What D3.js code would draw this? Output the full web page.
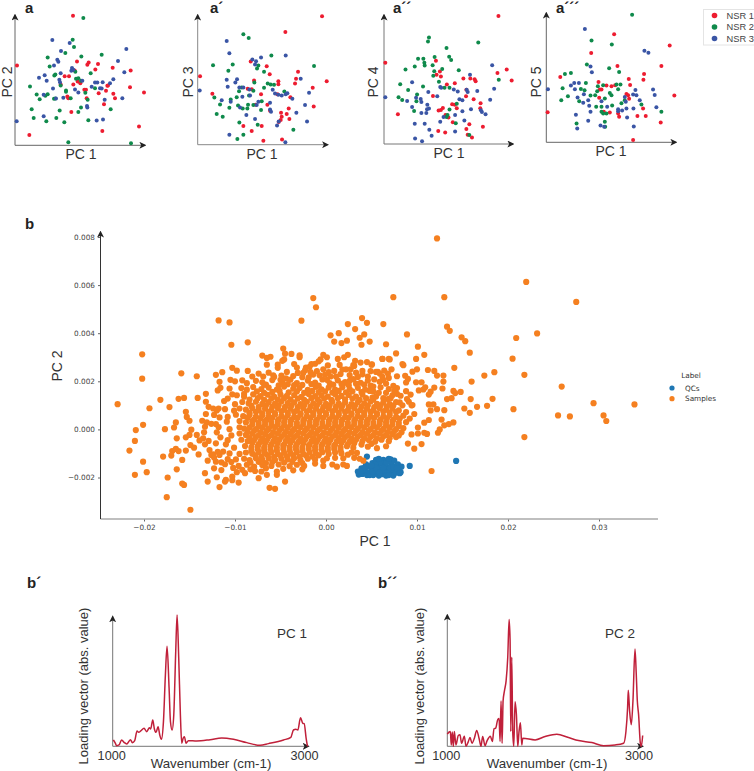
<!DOCTYPE html>
<html><head><meta charset="utf-8">
<style>html,body{margin:0;padding:0;background:#fff}svg{display:block}text{font-family:"Liberation Sans",Arial,sans-serif}</style>
<script src="https://cdn.jsdelivr.net/npm/d3@7"></script></head><body>
<svg id="c" width="754" height="771"></svg>
<script>
// Panel a: PC1 / PC2 scores (arbitrary units, 0-390 along each axis)
const aNSR1=[[174,388],[6,239],[43,31],[372,56],[262,43],[387,158],[347,224],[345,174],[293,232],[249,243],[241,227],[221,248],[217,241],[186,251],[179,224],[162,207],[149,207],[137,182],[188,191],[196,186],[175,182],[208,166],[213,166],[251,156],[273,163],[277,178],[279,179],[295,154],[300,141],[267,123],[157,146],[160,141],[169,100],[215,141]];
const aNSR2=[[205,381],[177,294],[173,316],[151,276],[98,263],[104,236],[199,266],[260,271],[227,216],[181,220],[183,199],[121,212],[118,209],[45,176],[65,152],[74,138],[91,148],[98,153],[117,139],[121,140],[153,164],[153,160],[137,179],[167,141],[190,201],[198,193],[240,171],[218,136],[211,157],[198,113],[190,100],[134,104],[50,108],[56,82],[94,72],[124,82],[148,69],[220,75],[287,108],[160,9],[348,6]];
const aNSR3=[[112,315],[164,306],[138,282],[127,256],[130,250],[117,239],[72,202],[89,210],[95,193],[133,196],[135,189],[137,216],[171,231],[169,223],[175,226],[114,170],[86,151],[123,140],[145,142],[180,167],[190,158],[240,188],[247,188],[263,189],[295,198],[285,186],[328,219],[309,252],[334,288],[230,175],[255,171],[260,170],[269,136],[322,141],[216,118],[217,113],[86,87],[5,72],[245,74],[264,77],[202,193]];
// Panel a': PC1 / PC3 scores
const bNSR1=[[373,386],[263,339],[7,206],[387,191],[301,219],[295,198],[292,184],[345,171],[348,115],[159,250],[207,236],[216,212],[169,193],[242,191],[242,182],[44,153],[150,168],[162,167],[190,152],[239,152],[278,143],[209,120],[174,120],[273,109],[250,96],[267,92],[252,84],[275,77],[249,74],[243,68],[137,56],[192,56],[162,41],[197,12],[253,16],[217,102]];
const bNSR2=[[137,332],[153,321],[46,239],[105,241],[92,222],[221,268],[349,237],[182,238],[178,229],[199,219],[210,184],[219,181],[229,180],[199,171],[170,187],[167,162],[132,172],[124,161],[50,142],[67,121],[99,136],[95,111],[117,143],[154,148],[121,118],[135,109],[149,109],[151,120],[167,119],[192,131],[190,104],[57,92],[75,84],[125,67],[180,60],[137,30],[119,17],[287,45],[260,160]];
const bNSR3=[[87,312],[95,275],[164,256],[175,251],[190,262],[264,268],[172,241],[87,195],[118,197],[113,187],[90,174],[125,172],[137,172],[155,166],[6,163],[72,134],[99,129],[134,144],[157,148],[225,165],[232,154],[242,150],[252,148],[264,152],[269,155],[284,138],[309,198],[334,156],[322,119],[217,126],[182,129],[177,119],[127,112],[217,106],[220,99],[146,89],[172,77],[296,96],[328,70],[243,70],[238,58],[95,30],[263,7]];
// Panel a'': PC1 / PC4 scores
const cNSR1=[[346,387],[4,246],[343,215],[371,225],[386,192],[157,252],[169,219],[159,209],[172,204],[190,180],[214,184],[240,198],[261,198],[274,196],[277,190],[249,164],[148,145],[271,135],[292,123],[291,108],[248,144],[206,120],[214,119],[220,108],[178,109],[172,103],[165,101],[195,80],[186,88],[208,66],[42,90],[164,39],[185,35],[249,45],[253,28],[266,20],[299,52],[258,60]];
const cNSR2=[[136,322],[133,310],[285,307],[189,290],[103,258],[119,258],[122,246],[123,237],[153,263],[197,264],[203,254],[147,238],[93,234],[65,225],[152,220],[226,223],[176,227],[149,206],[166,188],[49,181],[73,163],[118,174],[44,141],[55,133],[98,129],[100,150],[183,170],[198,170],[347,194],[220,122],[198,104],[91,100],[192,88],[189,82],[217,63],[258,27]];
const cNSR3=[[327,238],[260,209],[85,187],[170,172],[173,170],[134,157],[211,165],[223,159],[250,164],[253,157],[282,160],[333,167],[4,141],[70,130],[97,140],[111,136],[113,127],[161,144],[228,135],[237,132],[321,134],[85,112],[131,119],[136,107],[130,105],[113,94],[128,94],[237,99],[263,105],[293,102],[296,97],[307,90],[180,82],[215,88],[170,67],[93,61],[123,61],[243,71],[137,43],[144,25],[215,38],[94,17],[115,8]];
// Panel a''': PC1 / PC5 scores
const dNSR1=[[204,326],[135,269],[371,292],[346,230],[214,230],[294,206],[292,189],[248,191],[252,173],[42,197],[157,182],[161,159],[166,159],[181,171],[196,169],[207,172],[385,141],[4,91],[241,146],[246,142],[249,131],[291,102],[159,134],[173,92],[216,87],[219,77],[274,79],[299,79],[344,60],[261,7],[191,90]];
const dNSR2=[[258,385],[136,307],[197,295],[122,235],[189,223],[219,212],[56,206],[74,209],[49,163],[119,179],[104,161],[115,157],[155,169],[153,154],[171,172],[191,149],[211,174],[223,174],[216,160],[45,127],[65,139],[99,124],[133,141],[147,142],[196,142],[176,132],[226,118],[286,114],[346,92],[150,107],[166,107],[166,92],[198,111],[171,87],[181,87],[176,62],[91,57],[177,47],[236,127]];
const dNSR3=[[116,342],[295,276],[307,270],[133,229],[137,211],[74,171],[84,179],[98,179],[5,160],[86,160],[113,145],[94,135],[126,127],[268,158],[321,159],[326,143],[261,144],[281,127],[111,119],[129,110],[166,124],[183,107],[216,100],[216,94],[241,102],[228,96],[262,102],[331,106],[89,83],[133,92],[126,65],[93,42],[163,51],[263,48],[243,75],[236,137],[239,122],[174,47],[271,142]];

// Panel b: PC1, PC2 scores, in units of 0.001
const qcScores=[[14.3,-1.31],[9.2,-1.52],[4.5,-1.13],[3.5,-1.75],[3.6,-1.88],[3.9,-1.62],[4.0,-1.85],[4.3,-1.72],[4.5,-1.9],[4.7,-1.55],[4.9,-1.78],[5.1,-1.4],[5.2,-1.9],[5.3,-1.62],[5.5,-1.27],[5.6,-1.78],[5.7,-1.5],[5.8,-1.92],[5.9,-1.32],[6.0,-1.66],[6.2,-1.86],[6.3,-1.27],[6.4,-1.5],[6.5,-1.72],[6.6,-1.92],[6.7,-1.3],[6.8,-1.58],[7.0,-1.8],[7.1,-1.25],[7.2,-1.45],[7.3,-1.68],[7.4,-1.92],[7.5,-1.3],[7.6,-1.55],[7.7,-1.8],[7.9,-1.45],[8.0,-1.66],[8.2,-1.78],[8.3,-1.55],[6.1,-1.42],[5.0,-1.62],[4.4,-1.45],[7.0,-1.6],[6.6,-1.4],[5.4,-1.45],[4.2,-1.6],[4.8,-1.9],[5.1,-1.75],[5.5,-1.6],[5.9,-1.8],[6.3,-1.6],[6.9,-1.9],[7.4,-1.58],[7.8,-1.62],[8.1,-1.82],[5.0,-1.5],[5.8,-1.22],[6.9,-1.22],[3.8,-1.75]];
const sampleOutliers=[[-22.9,1.05],[-20.2,3.12],[-20.2,2.11],[-19.4,.88],[-20.1,.19],[-20.9,-.03],[-21,-.48],[-21.6,-.88],[-20.1,-1.34],[-21,-1.89],[-19.7,-1.78],[-18.2,1.23],[-17.2,.93],[-16.2,1.27],[-15.6,1.31],[-15.9,2.33],[-14.2,2.21],[-14.1,1.31],[-15.4,.73],[-15.3,.52],[-15,.36],[-16.5,.29],[-16.7,.08],[-17.7,.01],[-14.8,-.01],[-16.4,-.37],[-15.4,-.33],[-15,-.23],[-16.5,-.81],[-16.9,-.9],[-16.2,-.9],[-15.4,-.88],[-17.9,-1.13],[-17,-1.09],[-15.8,-1.27],[-14.9,-.65],[-14.5,-.76],[-14,-1.04],[-16.4,-1.66],[-17.4,-2],[-15.8,-2.25],[-15.6,-2.31],[-17.5,-2.82],[-14.9,-3.34],[-13.3,-1.82],[-13,-2.17],[-11.7,-2.4],[-12,-1.99],[-11.1,-2.17],[-11,-2.1],[-10.3,-1.96],[-10.3,-2.11],[-9.6,-2.21],[-6.2,-2.43],[-5.6,-2.47],[-7.4,-2.03],[-4.5,-2.17],[-6.5,-1.89],[-5.4,-1.89],[-5.4,-1.75],[-7.1,-1.75],[-7.8,-1.73],[-8.9,-1.82],[-11.8,4.53],[-10.6,4.45],[-10.4,3.52],[-8.6,3.62],[-2.7,4.52],[-1.4,5.46],[-1.1,5.08],[.5,3.91],[1.4,4],[.9,3.65],[1.7,3.59],[2.3,3.69],[2.4,4.38],[3.2,4.17],[3.7,3.81],[4.2,3.95],[3.96,4.63],[4.5,4.43],[3.9,3.52],[4.8,3.65],[6.3,4.38],[6.6,3.54],
[12.2,7.94],[22,6.13],[27.5,5.3],[7.4,5.5],[13,5.5],[8.9,3.95],[13.3,4.27],[13.6,4.1],[14.9,3.83],[15.3,3.67],[20.9,3.8],[23.2,3.99],[10.1,3.44],[7.7,3.16],[10.8,3.1],[15.8,3.19],[20.5,2.94],[6.2,2.93],[7,2.91],[9.9,2.93],[8.4,2.72],[8.5,2.67],[14.1,2.56],[11.2,2.47],[11.9,2.43],[10,2.5],[9.5,2.4],[12.2,2.24],[12.9,2.24],[17.4,2.24],[18.5,2.38],[21.8,2.27],[12.9,1.99],[16,1.99],[10.5,1.96],[9.9,1.96],[25.9,1.78],[12.8,1.7],[11.9,1.74],[10.9,1.75],[10.7,1.66],[10.2,1.62],[14,1.6],[14.8,1.56],[14.2,1.51],[11.5,1.57],[11.3,1.45],[9.3,1.45],[8.8,1.59],[18.3,1.27],[15.9,1.26],[13.8,1.3],[13.3,1.26],[11.3,1.04],[11.8,1.04],[9.5,1.01],[17.7,.98],[16.6,.94],[15.2,.87],[12.2,.84],[13,.8],[11.5,.79],[15.8,.69],[9.7,.64],[20.6,.84],[29.4,1.09],[33.9,1.04],[25.5,.58],[26.8,.54],[30.5,.58],[30.8,.35],[12.7,.41],[11.3,.39],[14,.29],[13.5,.22],[13,.17],[10.8,.28],[10.1,.08],[12.5,0],[12.3,-.14],[10.8,-.14],[11.1,-.19],[9.4,-.21],[10.1,-.17],[21.8,-.32],[9,-.59],[10.5,-.61],[9.7,-.8],[11.6,-1.73]];
const sampleUpper=[[-4.7,3.36],[-4.5,3.15],[-3.8,3.14],[-2.9,3.08],[-2.9,3],[-7,3.07],[-6.5,2.97],[-6.1,3.02],[-6.5,2.69],[-5.3,2.69],[-5.3,2.56],[-4.8,2.85],[-4.6,2.91],[-.3,3.1],[.1,3],[-.6,2.91],[-1.2,2.73],[-.8,2.83],[1.3,2.93],[2,3],[2.4,3.1],[3.2,2.85],[3,2.67],[3.8,2.78],[4.5,2.8],[5,2.69],[6.2,2.93],[6.9,2.93],[-10.3,2.56],[-9.8,2.44],[-12.1,2.27],[-11.4,2.38],[-8.6,2.43],[-8.1,2.2],[-10.5,2.06],[-10,2],[-11.7,1.98],[-11.6,1.73],[-11.9,1.62],[-13.2,1.48],[-13.2,1.15],[-12.9,.94],[-12.4,.87],[-11.8,.87],[-12,.79],[-12.3,.6],[-13.2,.64],[-13.6,.36],[-13.1,.29],[-13.3,.11],[-12.6,.23],[-12.1,.22],[-11.6,-.33],[-13.4,-.12],[-14.2,-.23],[-13.5,-.37],[-13.9,-.46],[-13.3,-.62],[-12.9,-.48],[-12.1,-.58],[-12.8,-.86],[-12.4,-1.04],[-11.9,-.93],[-13,-1.3],[-12.1,-1.34],[-11.5,-1.37],[-11.1,-1.45],[-12.3,-1.62],[-11.5,-1.69],[-12.6,-1.06],[-12.3,-1.17],[-11.7,-1.06],
[-3.2,2.57],[-2.2,2.57],[-1.8,2.6],[-2.3,2.46],[-2.5,2.35],[-3.1,2.35],[-4.3,2.39],[-5.8,2.25],[-5.7,2.18],[-1.4,2.28],[-.7,2.25],[-.1,2.28],[.5,2.2],[.9,2.43],[1.8,2.49],[2.2,2.5],[3.1,2.64],[4,2.43],[4,2.29],[5.5,2.39],[6.4,2.44],[5.9,2.32],[6.2,2.18],[6.8,2.32],[5.05,2.7],[5.7,2.39],[6.9,2.14],[7.8,2.21],[8.7,2.23],[9,2.1],[8.8,1.95],[6.3,2.05],[6.6,1.9],[7.4,1.81],[5.9,1.98],[4.8,1.6],[5.8,1.52],[6.6,1.52],[7.3,1.42],[7.8,1.48],[8.1,1.12],[8.4,1],[9.1,1.15],[9.4,1],[8.9,1.26]];
const sampleRidge=[[-7.4,2.32],[-6.9,2.2],[-6.3,2.36],[-4.9,2.24],[-4.4,2.12],[-3.6,2.22],[-3.5,2.72],[-2.6,2.17],[-1.9,2.16],[-1.7,2.38],[-1,2.42],[-.3,2.5],[.2,2.66],[.3,2.38],[-1.6,2.72],[1.1,2.2],[1.6,2.3],[2.6,2.26],[3.3,2.36],[3.5,2.18],[2.7,2.5],[4.6,2.2],[4.9,2.42],[5.3,2.08],[7.2,2.5],[1.5,2.68],[-6.8,1.86],[-3.5,1.84],[.1,2.06],[2.6,2.02],[4.2,1.86],[5.2,1.78],[6,1.75],[6.9,1.68],[7.8,1.72],[8.2,1.4],[5.1,1.32],[7.5,1.6],[-5,2.06],[1.9,1.9],[-8.7,1.92],[-9.2,2.04],[-9,1.48],[-10.3,1.46],[-10.8,1.28],[-10.6,1.7],[-11.2,1.18],[-11.7,.5],[-11.8,.1],[-12,-.12],[-11,-.62],[-11.3,-.92],[-10.6,-1],[-10.8,-1.24],[-10.4,-1.36],[-10.2,-1.6],[-9.8,-1.78],[-9.2,-1.68],[-8.3,-1.66],[-6.6,-1.62],[-4.7,-1.64],[-3.6,-1.7],[-2.6,-1.66],[-1.2,-1.42],[.1,-1.2],[2.8,-.96],[3.4,-.98]];
const sampleCore=[
[-7.7,2.02],[-7,1.96],[-5.9,2.05],[-4.8,1.94],[-3.9,2.07],[-3.2,1.92],[-2,2.03],[-1.2,1.95],[-.4,2.08],[.4,1.93],[1.3,2.04],[2.1,1.97],[3,2.09],[3.8,1.94],[4.6,2.03],
[-9.3,1.72],[-8.7,1.65],[-8,1.76],[-7.1,1.68],[-6.3,1.74],[-5.4,1.66],[-4.6,1.78],[-3.6,1.69],[-2.9,1.72],[-2,1.64],[-1.1,1.77],[-.5,1.67],[.3,1.74],[1,1.66],[1.8,1.75],[2.6,1.68],[3.5,1.73],[4.3,1.65],
[-9.8,1.42],[-9,1.36],[-8,1.46],[-7.2,1.38],[-6.4,1.44],[-5.7,1.36],[-5,1.45],[-4.3,1.39],[-3.5,1.43],[-2.7,1.35],[-1.9,1.47],[-1.2,1.38],[-.5,1.42],[.2,1.36],[1,1.46],[1.7,1.39],[2.5,1.43],[3.3,1.36],[4,1.45],[5.5,1.37],[6.3,1.3],
[-10,1.05],[-9.2,1.14],[-8.5,1.08],[-7.7,1.15],[-7,1.06],[-6.3,1.13],[-5.6,1.07],[-4.9,1.16],[-4.2,1.09],[-3.5,1.12],[-2.8,1.05],[-2.1,1.15],[-1.4,1.08],[-.7,1.13],[0,1.06],[.7,1.15],[1.4,1.07],[2.1,1.12],[2.8,1.05],[3.5,1.14],[4.2,1.08],[4.9,1.16],[5.6,1.06],[6.3,1.12],[7,1.05],[7.7,1.14],
[-11.1,.84],[-10.1,.78],[-9.5,.87],[-8.8,.82],[-8.1,.88],[-7.4,.8],[-6.7,.86],[-6,.81],[-5.3,.89],[-4.6,.82],[-3.9,.86],[-3.2,.79],[-2.5,.88],[-1.8,.81],[-1.1,.86],[-.4,.8],[.3,.88],[1,.82],[1.7,.86],[2.4,.79],[3.1,.88],[3.8,.81],[4.5,.86],[5.2,.79],[5.9,.88],[6.6,.82],[7.3,.86],[8,.79],[8.8,.72],
[-10.8,.52],[-9.9,.61],[-9.1,.55],[-8.4,.6],[-7.7,.53],[-7,.59],[-6.3,.54],[-5.6,.62],[-4.9,.56],[-4.2,.59],[-3.5,.52],[-2.8,.61],[-2.1,.55],[-1.4,.6],[-.7,.53],[0,.61],[.7,.55],[1.4,.59],[2.1,.52],[2.8,.61],[3.5,.55],[4.2,.6],[4.9,.53],[5.6,.61],[6.3,.54],[7,.59],[7.7,.52],[8.5,.57],[9.2,.45],
[-10.9,.32],[-9.5,.35],[-8.8,.29],[-8.1,.34],[-7.4,.27],[-6.7,.33],[-6,.28],[-5.3,.36],[-4.6,.3],[-3.9,.33],[-3.2,.27],[-2.5,.35],[-1.8,.29],[-1.1,.34],[-.4,.27],[.3,.35],[1,.29],[1.7,.33],[2.4,.27],[3.1,.35],[3.8,.29],[4.5,.34],[5.2,.27],[5.9,.35],[6.6,.29],[7.3,.33],[8,.27],[8.8,.3],
[-10.6,.01],[-9.5,.09],[-9,.03],[-8.4,.08],[-7.7,.01],[-7,.07],[-6.3,.02],[-5.6,.1],[-4.9,.04],[-4.2,.07],[-3.5,.01],[-2.8,.09],[-2.1,.03],[-1.4,.08],[-.7,.01],[0,.09],[.7,.03],[1.4,.07],[2.1,.01],[2.8,.09],[3.5,.03],[4.2,.08],[4.9,.01],[5.6,.09],[6.3,.02],[7,.07],[7.7,.01],[8.5,.05],
[-10.4,-.25],[-9.5,-.17],[-8.8,-.23],[-8.1,-.18],[-7.4,-.25],[-6.7,-.19],[-6,-.24],[-5.3,-.16],[-4.6,-.22],[-3.9,-.19],[-3.2,-.25],[-2.5,-.17],[-1.8,-.23],[-1.1,-.18],[-.4,-.25],[.3,-.17],[1,-.23],[1.7,-.19],[2.4,-.25],[3.1,-.17],[3.8,-.23],[4.5,-.18],[5.2,-.25],[5.9,-.17],[6.6,-.23],[7.3,-.19],[8,-.25],
[-10.8,-.45],[-9.3,-.43],[-8.6,-.49],[-7.9,-.44],[-7.2,-.51],[-6.5,-.45],[-5.8,-.5],[-5.1,-.42],[-4.4,-.48],[-3.7,-.45],[-3,-.51],[-2.3,-.43],[-1.6,-.49],[-.9,-.44],[-.2,-.51],[.5,-.43],[1.2,-.49],[1.9,-.45],[2.6,-.51],[3.3,-.43],[4,-.49],[4.7,-.44],[5.4,-.51],[6.1,-.43],[6.9,-.49],
[-10.1,-.76],[-8.9,-.69],[-8.2,-.75],[-7.5,-.7],[-6.8,-.76],[-6.1,-.7],[-5.4,-.75],[-4.7,-.68],[-4,-.74],[-3.3,-.7],[-2.6,-.76],[-1.9,-.68],[-1.2,-.74],[-.5,-.69],[.2,-.76],[.9,-.69],[1.6,-.75],[2.3,-.7],[3,-.76],[4.6,-.72],[5.6,-.78],[6.6,-.7],
[-9.5,-1.02],[-8.8,-.96],[-8.1,-1.01],[-7.4,-.95],[-6.7,-1],[-6,-.95],[-5.3,-1.02],[-4.6,-.97],[-3.9,-1],[-3.2,-.95],[-2.5,-1.02],[-1.8,-.96],[-1.1,-1.01],[-.4,-.95],[.3,-1.02],[1,-.96],[1.7,-1],[2.4,-1.05],
[-9.9,-1.25],[-9,-1.22],[-8.4,-1.28],[-7.7,-1.2],[-7,-1.26],[-6.3,-1.2],[-5.6,-1.27],[-4.9,-1.22],[-4.2,-1.25],[-3.5,-1.2],[-2.8,-1.28],[-2,-1.22],[-1.2,-1.26],[-.3,-1.3],[1,-1.18],[1.9,-1.2],[3.1,-1.18],[3.7,-1.22],[4.1,-1.3],
[-9.6,-1.52],[-8.7,-1.47],[-7.9,-1.55],[-7,-1.48],[-6,-1.52],[-5.2,-1.46],[-4,-1.53],[-3.2,-1.47],[-2.4,-1.52],[-.3,-1.52],[.7,-1.46],[1.2,-1.55],[1.9,-1.46],[2.3,-1.52]];
const sampleDense=[
[-6.6,1.86],[-5.2,1.83],[-4.2,1.88],[-2.6,1.85],[-1.6,1.88],[-.8,1.82],[.8,1.86],[1.7,1.89],[2.5,1.84],[3.3,1.9],[4.9,1.82],
[-7.6,1.58],[-6.8,1.52],[-5.9,1.56],[-5.1,1.6],[-4.1,1.54],[-3.2,1.58],[-2.4,1.52],[-1.5,1.6],[-.8,1.55],[-.1,1.58],[.7,1.53],[1.4,1.6],[2.2,1.54],[2.9,1.58],[3.9,1.55],[5.2,1.58],
[-8.4,1.24],[-7.5,1.3],[-6.8,1.23],[-6,1.29],[-5.3,1.24],[-4.6,1.3],[-3.9,1.25],[-3.1,1.28],[-2.4,1.23],[-1.6,1.3],[-.9,1.24],[-.2,1.28],[.6,1.23],[1.3,1.3],[2.1,1.25],[2.9,1.28],[3.7,1.23],[4.4,1.3],[5.2,1.24],[6.8,1.26],[7.1,1.3],
[-8.2,.99],[-7.4,.93],[-6.6,.99],[-5.9,.95],[-5.2,1],[-4.5,.94],[-3.8,.99],[-3.1,.93],[-2.4,1],[-1.7,.95],[-1,.99],[-.3,.93],[.4,1],[1.1,.95],[1.8,.99],[2.5,.93],[3.2,1],[3.9,.95],[4.6,.99],[5.3,.93],[6,1],[6.7,.95],[7.4,.99],
[-8.4,.69],[-7.7,.73],[-7,.67],[-6.3,.72],[-5.6,.68],[-4.9,.75],[-4.2,.69],[-3.5,.72],[-2.8,.67],[-2.1,.74],[-1.4,.68],[-.7,.73],[0,.68],[.7,.74],[1.4,.69],[2.1,.72],[2.8,.67],[3.5,.74],[4.2,.69],[4.9,.73],[5.6,.67],[6.3,.74],[7,.7],[7.7,.72],
[-8.6,.48],[-7.9,.41],[-7.2,.46],[-6.5,.41],[-5.9,.48],[-5.2,.42],[-4.5,.46],[-3.8,.4],[-3.1,.48],[-2.4,.42],[-1.7,.47],[-1,.4],[-.3,.48],[.4,.42],[1.1,.46],[1.8,.4],[2.5,.48],[3.2,.42],[3.9,.47],[4.6,.4],[5.3,.48],[6,.41],[6.7,.46],[7.4,.4],[8.1,.45],
[-8.1,.2],[-7.4,.14],[-6.7,.2],[-6,.15],[-5.3,.22],[-4.6,.17],[-3.9,.2],[-3.2,.14],[-2.5,.22],[-1.8,.16],[-1.1,.21],[-.4,.14],[.3,.22],[1,.16],[1.7,.2],[2.4,.14],[3.1,.22],[3.8,.16],[4.5,.21],[5.2,.14],[5.9,.22],[6.6,.16],[7.3,.2],[8,.14],
[-8.6,-.11],[-7.9,-.06],[-7.2,-.12],[-6.5,-.06],[-5.8,-.11],[-5.1,-.04],[-4.4,-.1],[-3.7,-.07],[-3,-.12],[-2.3,-.05],[-1.6,-.11],[-.9,-.06],[-.2,-.12],[.5,-.05],[1.2,-.11],[1.9,-.07],[2.6,-.12],[3.3,-.05],[4,-.11],[4.7,-.06],[5.4,-.12],[6.1,-.05],[6.8,-.11],[7.5,-.07],[8.3,-.12],
[-8.4,-.36],[-7.7,-.32],[-7,-.37],[-6.3,-.31],[-5.6,-.36],[-4.9,-.3],[-4.2,-.35],[-3.5,-.32],[-2.8,-.37],[-2.1,-.3],[-1.4,-.36],[-.7,-.31],[0,-.37],[.7,-.3],[1.4,-.36],[2.1,-.32],[2.8,-.37],[3.5,-.3],[4.2,-.36],[4.9,-.31],[5.6,-.37],[6.3,-.3],[7,-.36],[7.7,-.32],
[-8.1,-.57],[-7.4,-.62],[-6.7,-.58],[-6,-.63],[-5.3,-.57],[-4.6,-.62],[-3.9,-.56],[-3.2,-.61],[-2.5,-.58],[-1.8,-.63],[-1.1,-.56],[-.4,-.62],[.3,-.57],[1,-.63],[1.7,-.56],[2.4,-.62],[3.1,-.58],[3.9,-.63],[5,-.6],
[-8.2,-.88],[-7.5,-.83],[-6.8,-.88],[-6.1,-.83],[-5.4,-.88],[-4.7,-.82],[-4,-.87],[-3.3,-.83],[-2.6,-.88],[-1.9,-.82],[-1.2,-.87],[-.5,-.83],[.2,-.88],[.9,-.82],[1.6,-.87],
[-7.8,-1.08],[-7.1,-1.13],[-6.4,-1.08],[-5.7,-1.14],[-5,-1.09],[-4.3,-1.12],[-3.6,-1.08],[-2.9,-1.14],[-2.2,-1.09],[-1.5,-1.13],[-.8,-1.08],
[-8.3,-1.38],[-7.4,-1.35],[-6.6,-1.4],[-5.9,-1.36],[-4.6,-1.38],[-3.7,-1.35],[-2.6,-1.4]];
const legendB=["QCs","Samples"];
const xTicksB=[-0.02,-0.01,0,0.01,0.02,0.03];
const yTicksB=[-0.002,0,0.002,0.004,0.006,0.008];

// Loading spectra: wavenumber (cm-1), loading (abs.)
const wnPC1=[1007,1024,1041,1065,1092,1116,1144,1182,1202,1226,1250,1267,1288,1322,1349,1377,1390,1411,1428,1445,1466,1483,1500,1521,1541,1558,1579,1593,1610,1627,1647,1661,1678,1695,1709,1723,1736,1753,1777,1863,2000,2120,2240,2377,2514,2599,2754,2829,2856,2880,2901,2928,2952,2966,2986,3000];
const loadPC1=[19,11,2,4,19,12,7,20,11,17,46,42,46,54,44,56,52,79,52,42,59,34,21,74,214,300,174,74,49,94,284,394,264,94,9,24,29,9,17,16,20,25,21,11,3,8,19,27,49,51,49,86,69,68,24,0];
const wnPC2=[1000,1017,1031,1041,1051,1062,1072,1089,1113,1130,1147,1175,1192,1216,1233,1254,1278,1302,1326,1346,1363,1388,1408,1442,1463,1480,1497,1518,1532,1542,1552,1563,1573,1587,1604,1621,1635,1645,1652,1662,1672,1683,1696,1710,1724,1737,1751,1765,1775,1902,2005,2125,2245,2348,2485,2605,2725,2811,2835,2852,2859,2873,2890,2907,2928,2941,2952,2965,2983,2993,3007];
const loadPC2=[36,42,44,4,42,0,44,4,32,34,9,30,0,14,26,9,24,47,24,0,29,2,16,30,14,52,54,79,82,14,134,9,134,164,194,264,376,314,44,264,44,0,132,94,0,44,70,4,24,19,29,36,26,17,11,2,4,9,44,114,166,104,64,134,288,214,134,94,9,0,32];
const nsrLabels=["NSR 1","NSR 2","NSR 3"];
const nsrColors=["#ed1c30","#0f8a4b","#3a55a5"];

const svg=d3.select("#c");
const defs=svg.append("defs");
defs.append("marker").attr("id","ah").attr("viewBox","0 0 10 10").attr("refX",8).attr("refY",5)
 .attr("markerWidth",7).attr("markerHeight",7).attr("markerUnits","userSpaceOnUse").attr("orient","auto")
 .append("path").attr("d","M0,0L10,5L0,10L2.5,5Z").attr("fill","#222");
function arrowAxes(ox,oy,rx,ty,col,w){
 svg.append("line").attr("x1",ox).attr("y1",oy).attr("x2",ox).attr("y2",ty).attr("stroke",col).attr("stroke-width",w).attr("marker-end","url(#ah)");
 svg.append("line").attr("x1",ox).attr("y1",oy).attr("x2",rx).attr("y2",oy).attr("stroke",col).attr("stroke-width",w).attr("marker-end","url(#ah)");
}
function label(x,y,t,o={}){
 const e=svg.append("text").attr("x",x).attr("y",y).text(t).attr("font-size",o.size||13).attr("fill",o.fill||"#333")
  .attr("text-anchor",o.anchor||"middle").attr("font-weight",o.weight||"normal");
 if(o.family)e.style("font-family",o.family);
 if(o.rot)e.attr("transform",`rotate(-90,${x},${y})`);
 return e;
}
const panels=[
 {ox:15,oy:145.3,rx:145,ty:15,sets:[aNSR1,aNSR2,aNSR3],yl:"PC 2",ylx:12,xlx:81,xly:159,col:"#666",t:"a",tx:25},
 {ox:197.7,oy:144.7,rx:327.7,ty:15,sets:[bNSR1,bNSR2,bNSR3],yl:"PC 3",ylx:193,xlx:262,xly:159,col:"#888",t:"a´",tx:210},
 {ox:384,oy:144,rx:513,ty:15,sets:[cNSR1,cNSR2,cNSR3],yl:"PC 4",ylx:378,xlx:449,xly:158,col:"#777",t:"a´´",tx:393},
 {ox:546.3,oy:142.3,rx:676,ty:13,sets:[dNSR1,dNSR2,dNSR3],yl:"PC 5",ylx:541,xlx:611,xly:156,col:"#666",t:"a´´´",tx:556}];
panels.forEach(p=>{
 const x=d3.scaleLinear().domain([0,390]).range([p.ox,p.rx]);
 const y=d3.scaleLinear().domain([0,390]).range([p.oy,p.ty]);
 arrowAxes(p.ox,p.oy,p.rx,p.ty,p.col,1);
 p.sets.forEach((s,i)=>{
  svg.append("g").selectAll("circle").data(s).join("circle")
   .attr("cx",d=>x(d[0])).attr("cy",d=>y(d[1])).attr("r",2).attr("fill",nsrColors[i]);
 });
 label(p.xlx,p.xly,"PC 1",{size:14});
 label(p.ylx,82,p.yl,{size:14,rot:true});
 label(p.tx,13,p.t,{size:15,weight:"bold",anchor:"start",fill:"#222"});
});
// legend top right
svg.append("rect").attr("x",703.5).attr("y",9.5).attr("width",60).attr("height",35.5).attr("fill","#fff").attr("stroke","#e4e4e4");
nsrLabels.forEach((n,i)=>{
 const yy=15.5+i*11.5;
 svg.append("circle").attr("cx",714.5).attr("cy",yy).attr("r",2.8).attr("fill",nsrColors[i]);
 label(726.5,yy+3.2,n,{size:9.3,anchor:"start",fill:"#444"});
});

// Panel b
const xB=d3.scaleLinear().domain([-0.02,0.03]).range([144,599]);
const yB=d3.scaleLinear().domain([-0.002,0.008]).range([477.5,237]);
const dj="'DejaVu Sans',sans-serif";
const axB=svg.append("g").attr("transform","translate(0,519)").call(d3.axisBottom(xB).tickValues(xTicksB).tickFormat(d3.format(".2f")).tickSize(2.5));
axB.select(".domain").remove();
const ayB=svg.append("g").attr("transform","translate(100.5,0)").call(d3.axisLeft(yB).tickValues(yTicksB).tickFormat(d3.format(".3f")).tickSize(2.5));
ayB.select(".domain").remove();
[axB,ayB].forEach(a=>{a.selectAll("text").style("font-family",dj).attr("font-size",7.3).attr("fill","#444");a.selectAll("line").attr("stroke","#666");});
svg.append("line").attr("x1",100.5).attr("y1",519).attr("x2",658).attr("y2",519).attr("stroke","#aaa").attr("stroke-width",1.3);
svg.append("line").attr("x1",100.5).attr("y1",519).attr("x2",100.5).attr("y2",232).attr("stroke","#333").attr("stroke-width",1).attr("marker-end","url(#ah)");
const tab=["#1f77b4","#f58020"];
const mx=v=>xB(v*1e-3),my=v=>yB(v*1e-3);
svg.append("g").selectAll("circle").data(qcScores).join("circle").attr("cx",d=>mx(d[0])).attr("cy",d=>my(d[1])).attr("r",3.1).attr("fill",tab[0]);
svg.append("g").selectAll("circle").data(sampleDense.concat(sampleCore,sampleRidge,sampleUpper,sampleOutliers)).join("circle").attr("cx",d=>mx(d[0])).attr("cy",d=>my(d[1])).attr("r",3.1).attr("fill",tab[1]);
label(375,546,"PC 1",{size:14});
label(62,366,"PC 2",{size:14,rot:true});
label(25,229,"b",{size:15,weight:"bold",anchor:"start",fill:"#222"});
label(691,378,"Label",{size:7.3,family:dj,fill:"#333"});
legendB.forEach((n,i)=>{
 const yy=388+i*10.7;
 svg.append("circle").attr("cx",672).attr("cy",yy).attr("r",2.6).attr("fill",tab[i]);
 label(685,yy+2.7,n,{size:7.3,family:dj,anchor:"start",fill:"#333"});
});

// Spectra
function spectrum(o){
 const x=d3.scaleLinear().domain([1000,3000]).range([o.ox,o.x3k]);
 const y=d3.scaleLinear().domain([0,389]).range([o.oy,o.ty]);
 arrowAxes(o.ox,o.oy,o.rx,o.ty,"#666",0.9);
 const pts=o.wn.map((w,i)=>[w,o.v[i]]);
 svg.append("path").attr("d",d3.line().curve(d3.curveMonotoneX).x(d=>x(d[0])).y(d=>y(d[1]))(pts)).attr("fill","none").attr("stroke","#c0203a").attr("stroke-width",1.5).attr("stroke-linejoin","round");
 label(o.ox-1,760,"1000",{size:12.7});
 label(o.x3k-3,760,"3000",{size:12.7});
 label(o.wx,768,"Wavenumber (cm-1)",{size:13.3});
 label(o.yx,686,"Loading vector (abs. value)",{size:13,rot:true});
 label(o.px,638,o.pc,{size:13.5});
 label(o.tx,588,o.t,{size:15,weight:"bold",anchor:"start",fill:"#222"});
}
spectrum({ox:112.7,oy:746.3,rx:308.3,ty:616.7,x3k:307.5,wn:wnPC1,v:loadPC1,wx:211,yx:88,px:292,pc:"PC 1",tx:27,t:"b´"});
spectrum({ox:447.3,oy:746.3,rx:642.7,ty:615,x3k:642,wn:wnPC2,v:loadPC2,wx:547,yx:424,px:620,pc:"PC 2",tx:378,t:"b´´"});
</script></body></html>
